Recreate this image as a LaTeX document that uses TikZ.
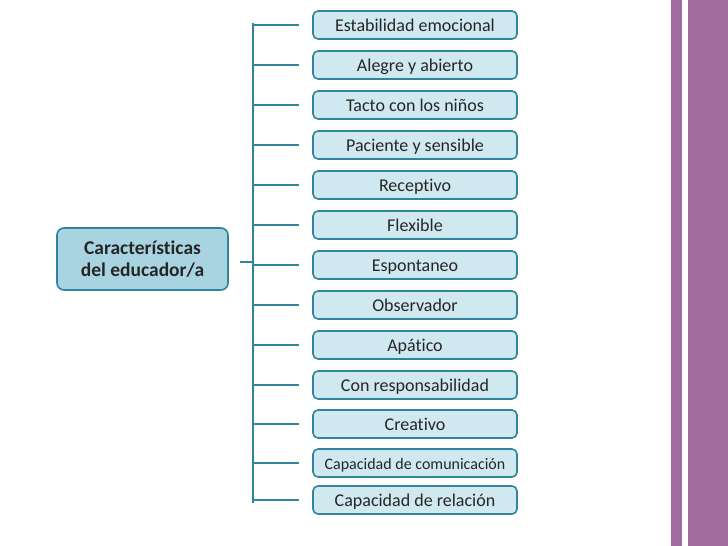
\documentclass[tikz,border=0pt]{standalone}
\usepackage{fontspec}
\setmainfont{Carlito}[Ligatures=NoCommon]
\usepackage{tikz}
\usetikzlibrary{positioning, calc}
\definecolor{tealline}{RGB}{49,132,155}
\definecolor{lightteal}{RGB}{208,232,240}
\definecolor{midteal}{RGB}{168,212,226}
\definecolor{barpurple}{RGB}{160,108,158}
\tikzset{
  rootbox/.style={rectangle, draw=tealline, fill=midteal, line width=1.6pt, rounded corners=7pt,
    minimum width=171pt, minimum height=62pt, font=\fontsize{19.5}{22}\selectfont\bfseries,
    text=black!85, align=center},
  trait/.style={rectangle, draw=tealline, fill=lightteal, line width=1.6pt, rounded corners=5pt,
    minimum width=204pt, minimum height=28pt, font=\fontsize{18}{20}\selectfont,
    text=black!85, align=center, text height=14pt, text depth=2pt},
  branch/.style={line width=1.6pt, tealline},
  bar/.style={fill=barpurple, draw=none}
}
\begin{document}
\begin{tikzpicture}[x=1pt, y=-1pt]
  \useasboundingbox (0,0) rectangle (728,546);
  % purple side bars
  \fill[bar] (671,0) rectangle (682,546);
  \fill[bar] (688,0) rectangle (728,546);
  % root
  \node[rootbox] (root) at (142.5,259) {Características\\del educador/a};
  % traits
  \node[trait] (b1) at (415,25) {Estabilidad emocional};
  \node[trait] (b2) at (415,65) {Alegre y abierto};
  \node[trait] (b3) at (415,105) {Tacto con los niños};
  \node[trait] (b4) at (415,145) {Paciente y sensible};
  \node[trait] (b5) at (415,185) {Receptivo};
  \node[trait] (b6) at (415,225) {Flexible};
  \node[trait] (b7) at (415,265) {Espontaneo};
  \node[trait] (b8) at (415,305) {Observador};
  \node[trait] (b9) at (415,345) {Apático};
  \node[trait] (b10) at (415,385) {Con responsabilidad};
  \node[trait] (b11) at (415,424) {Creativo};
  \node[trait, font=\fontsize{16}{18}\selectfont] (b12) at (415,463) {Capacidad de comunicación};
  \node[trait] (b13) at (415,500) {Capacidad de relación};
  % trunk
  \coordinate (ttop) at (253,23);
  \coordinate (tbot) at (253,503);
  \draw[branch] (ttop) -- (tbot);
  \draw[branch, shorten <=11pt] (root.east |- 0,262) -- (ttop |- 0,262);
  \foreach \b in {b1,b2,b3,b4,b5,b6,b7,b8,b9,b10,b11,b12,b13}
    \draw[branch, shorten >=13pt] (ttop |- \b) -- (\b.west);
\end{tikzpicture}
\end{document}
